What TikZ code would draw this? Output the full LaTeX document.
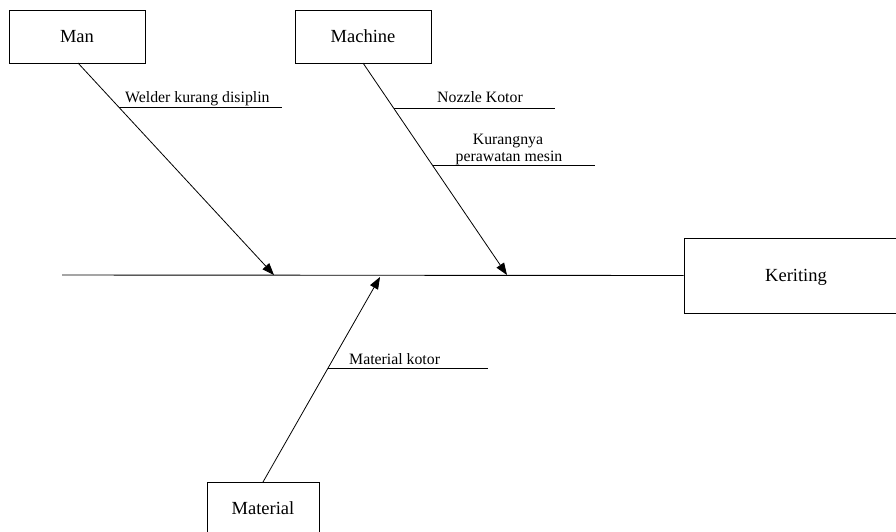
\documentclass[tikz,border=0pt]{standalone}
\usepackage{fontspec}
\setmainfont{Liberation Serif}
\usetikzlibrary{arrows.meta}
\begin{document}
\begin{tikzpicture}[x=1pt,y=-1pt,
  catbox/.style={draw,line width=0.9pt,inner sep=0pt,font=\fontsize{18.5}{20}\selectfont},
  bone/.style={line width=0.8pt,-{Triangle[length=12pt,width=9pt]}},
  twig/.style={line width=0.8pt},
  lbl/.style={inner sep=0pt,anchor=base west,font=\fontsize{15.8}{17}\selectfont}]
\useasboundingbox (0,0) rectangle (896,531);

% category boxes
\node[catbox,minimum width=136pt,minimum height=53pt] (man) at (77,36.5) {Man};
\node[catbox,minimum width=136pt,minimum height=53pt] (machine) at (363,36.5) {Machine};
\node[catbox,minimum width=112pt,minimum height=53pt] (material) at (263,508.5) {Material};
\node[catbox,minimum width=216pt,minimum height=75pt] (effect) at (792,275.5) {};
\node[inner sep=0pt,font=\fontsize{18.5}{20}\selectfont] (efftext) at (796,277) {Keriting};

% spine
\coordinate (tail) at (62,275);
\draw[line width=0.9pt] (tail) -- (effect.west);

% bone tips on the spine
\coordinate (manTip) at (274,275);
\coordinate (machTip) at (507,275);
\coordinate (matTip) at (380,277);

% main bones
\coordinate (manTop) at (78,63);
\coordinate (machTop) at (363,63);
\coordinate (matBot) at (263,482);
\draw[bone] (manTop) -- (manTip);
\draw[bone] (machTop) -- (machTip);
\draw[bone] (matBot) -- (matTip);

% sub-causes
\coordinate (w1) at (119,107); \coordinate (w2) at (282,107);
\draw[twig] (w1) -- (w2);
\node[lbl] (welder) at (125,102) {Welder kurang disiplin};

\coordinate (n1) at (394,108); \coordinate (n2) at (555,108);
\draw[twig] (n1) -- (n2);
\node[lbl] (nozzle) at (437,102) {Nozzle Kotor};

\coordinate (k1) at (433,165); \coordinate (k2) at (595,165);
\draw[twig] (k1) -- (k2);
\node[lbl,anchor=base] (kur1) at (508,144) {Kurangnya};
\node[lbl,anchor=base] (kur2) at (509,161) {perawatan mesin};

\coordinate (m1) at (328,368); \coordinate (m2) at (488,368);
\draw[twig] (m1) -- (m2);
\node[lbl] (matkot) at (349,364) {Material kotor};
\end{tikzpicture}
\end{document}
